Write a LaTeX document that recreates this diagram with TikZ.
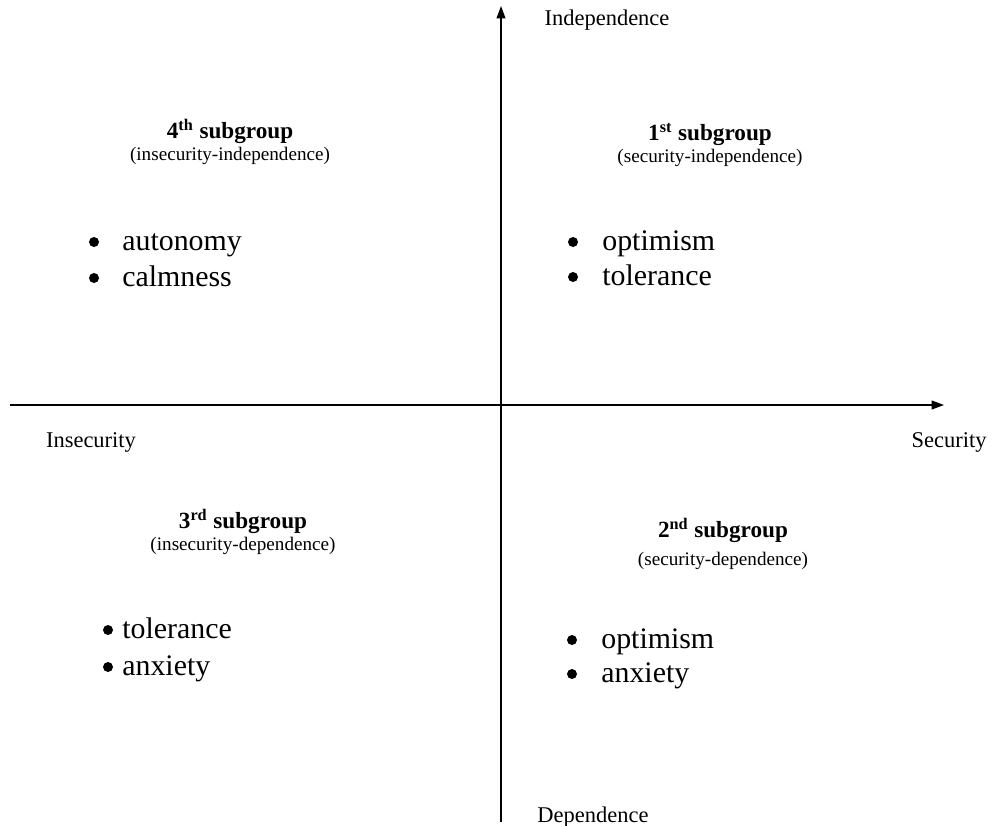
\documentclass[tikz,border=0pt]{standalone}
\usepackage{fontspec}
\setmainfont{Liberation Serif}
\usetikzlibrary{arrows.meta, positioning}

\tikzset{
  axislabel/.style={anchor=base, inner sep=0pt, font=\fontsize{12.8}{14}\selectfont},
  grouptitle/.style={anchor=base, inner sep=0pt, font=\fontsize{13.2}{15}\selectfont\bfseries},
  groupnote/.style={anchor=base, inner sep=0pt, font=\fontsize{10.9}{13}\selectfont},
  itemtext/.style={anchor=base west, inner sep=0pt, font=\fontsize{17}{20}\selectfont},
  itembullet/.style={circle, fill=black, inner sep=0pt, minimum size=0.2cm},
}

\begin{document}
\begin{tikzpicture}[x=0.02cm, y=-0.02cm, >={Triangle[length=7pt,width=5pt]}]

\useasboundingbox (0,0) rectangle (993,825);

% Axes
\coordinate (xleft) at (10,405);
\coordinate (xright) at (944,405);
\coordinate (ybottom) at (501,822);
\coordinate (ytop) at (501,6);
\draw[->, line width=0.8pt] (xleft) -- (xright);
\draw[->, line width=0.8pt] (ybottom) -- (ytop);

% Axis labels
\node[axislabel] at (607,25) (indep) {Independence};
\node[axislabel] at (593,822) (dep) {Dependence};
\node[axislabel] at (949,447) (sec) {Security};
\node[axislabel] at (91,447) (insec) {Insecurity};

% 4th subgroup
\node[grouptitle] at (230,138) (g4) {4\textsuperscript{th} subgroup};
\node[groupnote] at (230,160) (g4n) {(insecurity-independence)};
\node[itembullet] at (94,242) (b4a) {};
\node[itembullet] at (94,278) (b4b) {};
\node[itemtext] at (122,250) (g4a) {autonomy};
\node[itemtext] at (122,286) (g4b) {calmness};

% 1st subgroup
\node[grouptitle] at (710,140) (g1) {1\textsuperscript{st} subgroup};
\node[groupnote] at (710,162) (g1n) {(security-independence)};
\node[itembullet] at (573,242) (b1a) {};
\node[itembullet] at (573,277) (b1b) {};
\node[itemtext] at (602,250) (g1a) {optimism};
\node[itemtext] at (602,285) (g1b) {tolerance};

% 3rd subgroup
\node[grouptitle] at (243,528) (g3) {3\textsuperscript{rd} subgroup};
\node[groupnote] at (243,550) (g3n) {(insecurity-dependence)};
\node[itembullet] at (108,630) (b3a) {};
\node[itembullet] at (108,667) (b3b) {};
\node[itemtext] at (122,638) (g3a) {tolerance};
\node[itemtext] at (122,675) (g3b) {anxiety};

% 2nd subgroup
\node[grouptitle] at (723,537) (g2) {2\textsuperscript{nd} subgroup};
\node[groupnote] at (723,565) (g2n) {(security-dependence)};
\node[itembullet] at (572,640) (b2a) {};
\node[itembullet] at (572,674) (b2b) {};
\node[itemtext] at (601,648) (g2a) {optimism};
\node[itemtext] at (601,682) (g2b) {anxiety};

\end{tikzpicture}
\end{document}
